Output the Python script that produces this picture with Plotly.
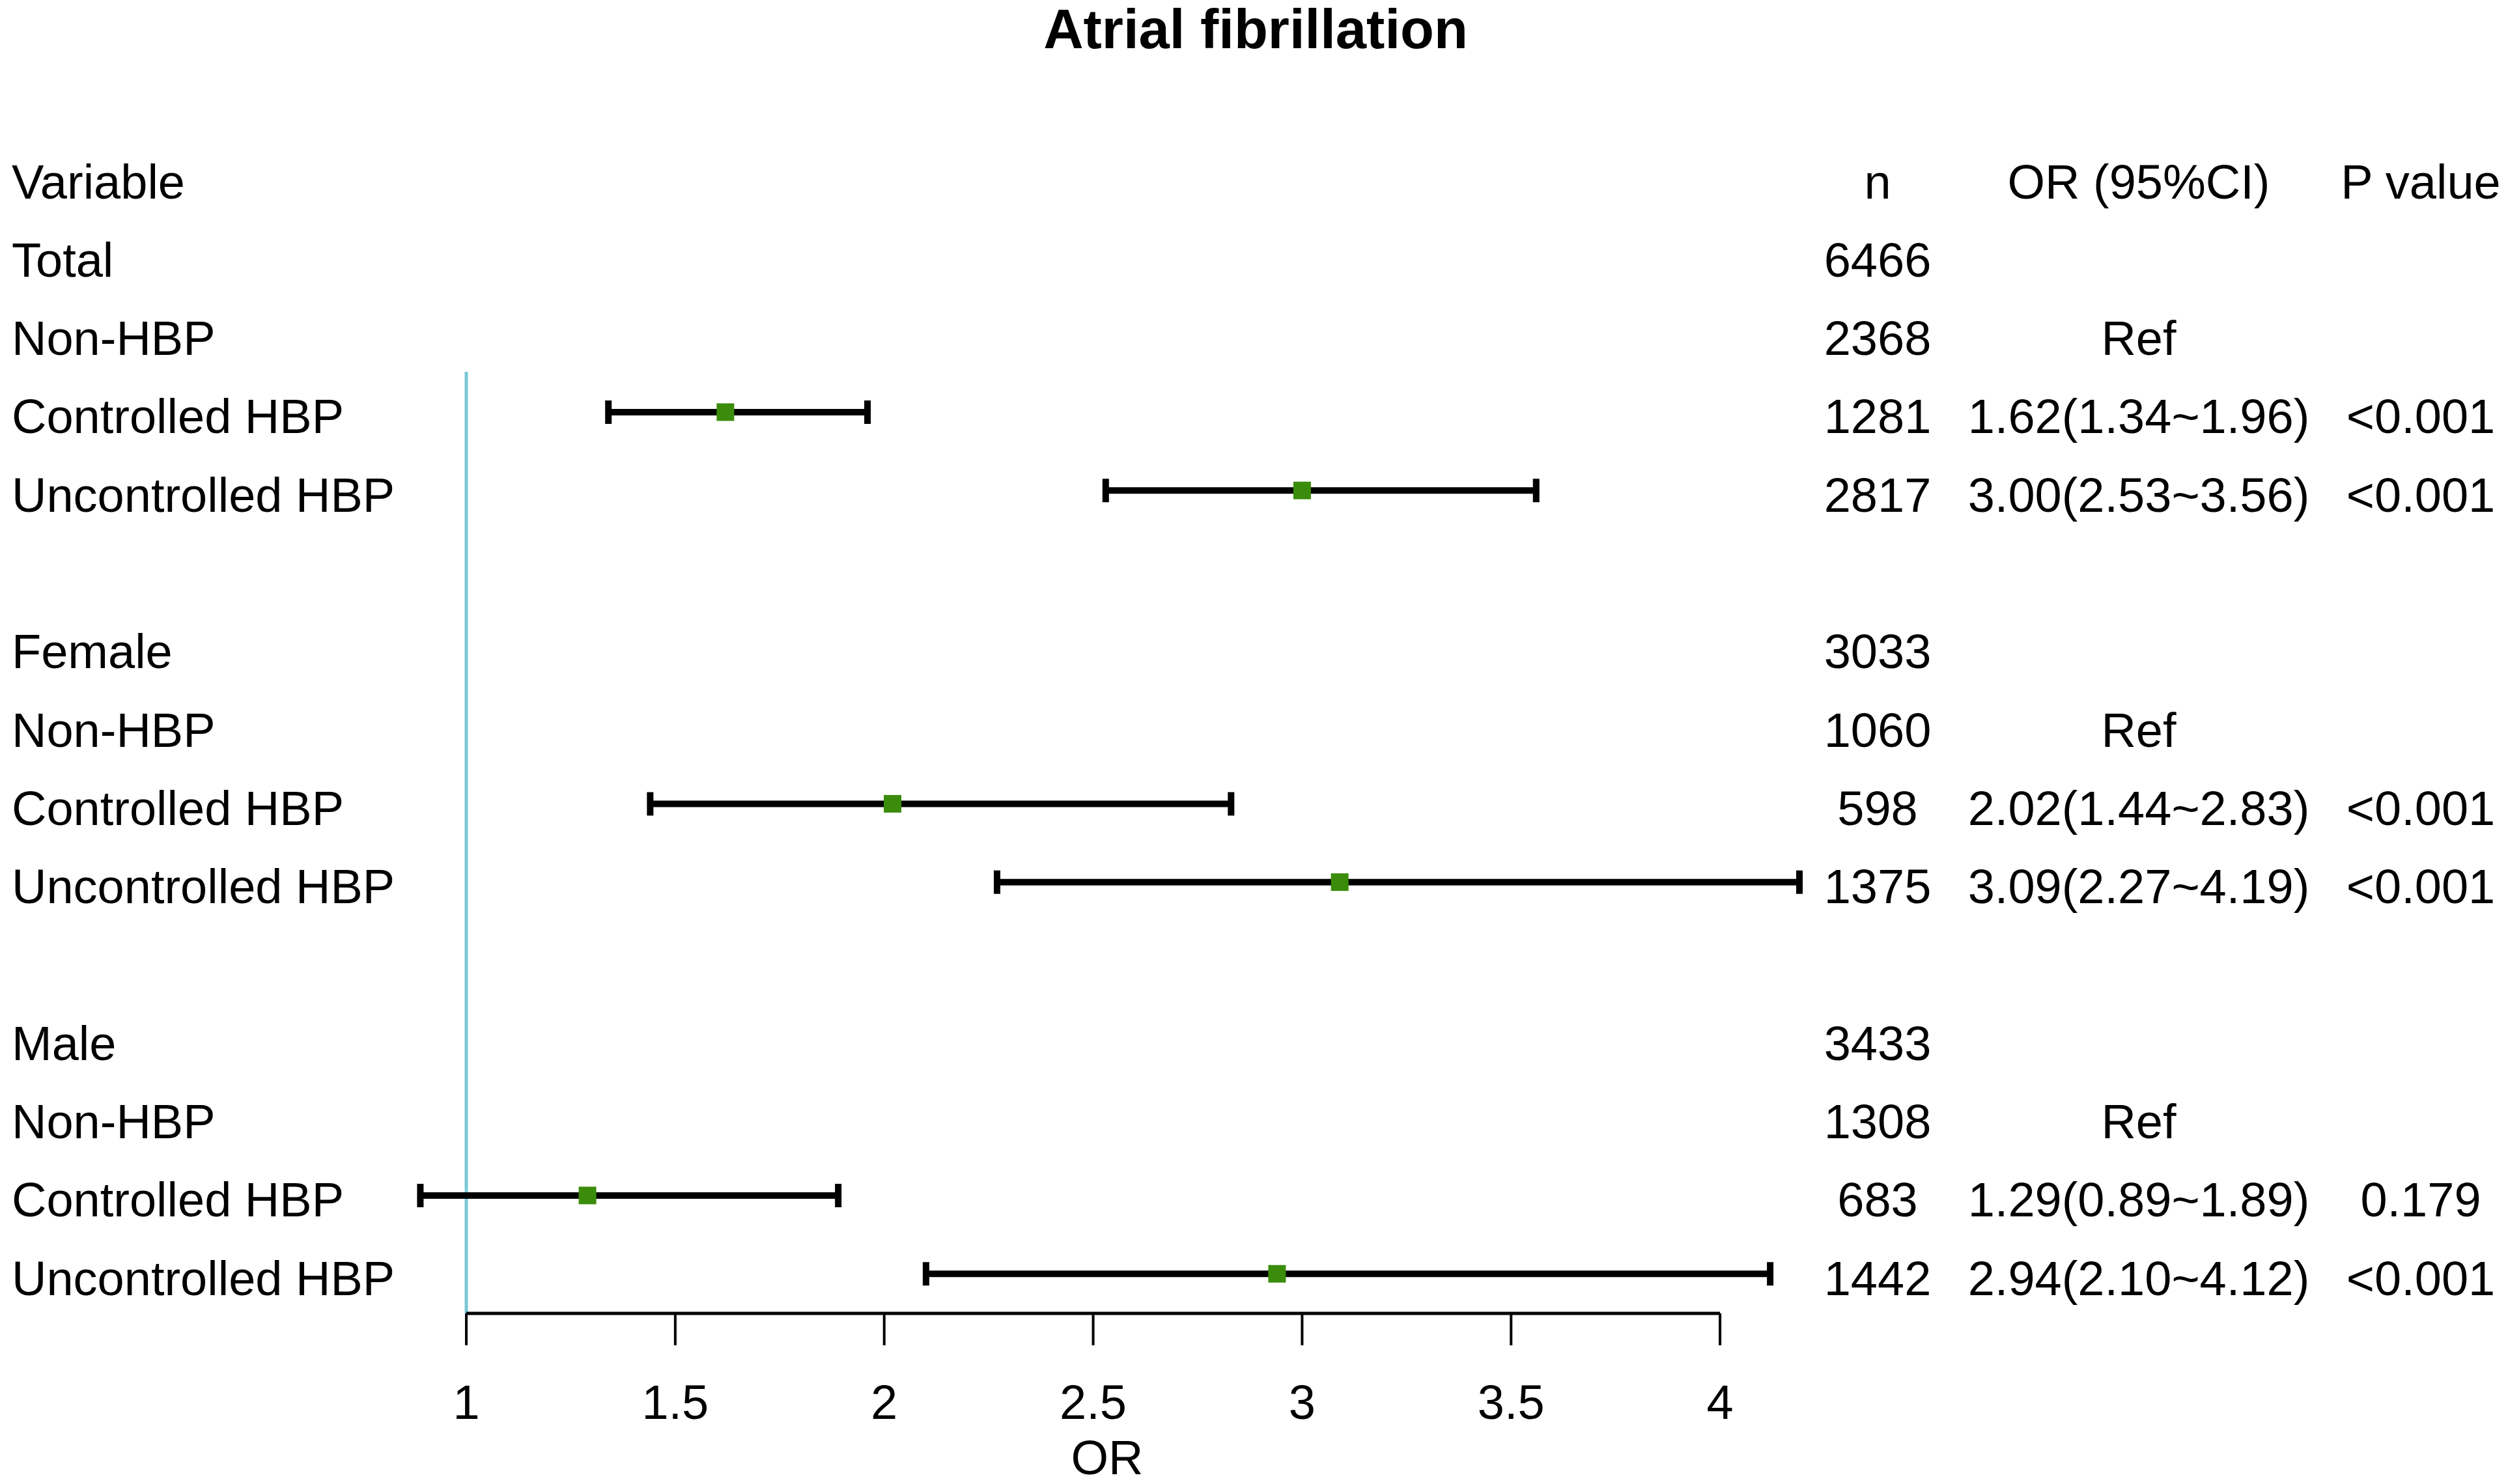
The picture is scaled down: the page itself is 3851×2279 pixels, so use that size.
import plotly.graph_objects as go

# ---- data ----
title_text = "Atrial fibrillation"
headers = ["Variable", "n", "OR (95%CI)", "P value"]

variables = ["Total", "Non-HBP", "Controlled HBP", "Uncontrolled HBP", "",
             "Female", "Non-HBP", "Controlled HBP", "Uncontrolled HBP", "",
             "Male", "Non-HBP", "Controlled HBP", "Uncontrolled HBP"]
n_values = ["6466", "2368", "1281", "2817", "",
            "3033", "1060", "598", "1375", "",
            "3433", "1308", "683", "1442"]
or_text = ["", "Ref", "1.62(1.34~1.96)", "3.00(2.53~3.56)", "",
           "", "Ref", "2.02(1.44~2.83)", "3.09(2.27~4.19)", "",
           "", "Ref", "1.29(0.89~1.89)", "2.94(2.10~4.12)"]
p_text = ["", "", "<0.001", "<0.001", "",
          "", "", "<0.001", "<0.001", "",
          "", "", "0.179", "<0.001"]
or_est = [None, None, 1.62, 3.00, None,
          None, None, 2.02, 3.09, None,
          None, None, 1.29, 2.94]
ci_low = [None, None, 1.34, 2.53, None,
          None, None, 1.44, 2.27, None,
          None, None, 0.89, 2.10]
ci_high = [None, None, 1.96, 3.56, None,
           None, None, 2.83, 4.19, None,
           None, None, 1.89, 4.12]

tick_values = [1, 1.5, 2, 2.5, 3, 3.5, 4]
tick_labels = ["1", "1.5", "2", "2.5", "3", "3.5", "4"]
axis_title = "OR"
ref_value = 1

# ---- geometry, in pixels of the 3851x2279 page ----
W, H = 3851, 2279
OFF = 8                              # default body margin of the html page
row0_px, row_step = 286, 120.3       # header row, row pitch
x1_px, px_per_unit = 716, 641.7      # where OR = 1 sits, scale


def row_of(px):
    return (px - row0_px) / row_step


y_top = row_of(OFF)
y_bot = row_of(H - OFF)
x_lo = ref_value - (x1_px - OFF) / px_per_unit
x_hi = ref_value + (W - OFF - x1_px) / px_per_unit

rows = list(range(1, len(variables) + 1))
line_shift = -14 / row_step          # CI lines sit a touch above the text middle
axis_row = row_of(2017)
tick_end = row_of(2066)
tick_lab_row = row_of(2160)
axis_title_row = row_of(2245)
ref_top = row_of(571)

FONT = "Liberation Sans, Arial, sans-serif"
FS = 74

fig = go.Figure()

# reference line at OR = 1
fig.add_trace(go.Scatter(
    x=[ref_value, ref_value], y=[ref_top, axis_row],
    mode="lines", line=dict(color="#78c8d8", width=5),
    hoverinfo="skip"))

# confidence intervals + point estimates
est_rows = [r + line_shift for r, e in zip(rows, or_est) if e is not None]
est_x = [e for e in or_est if e is not None]
plus = [h - e for e, h in zip(or_est, ci_high) if e is not None]
minus = [e - l for e, l in zip(or_est, ci_low) if e is not None]
fig.add_trace(go.Scatter(
    x=est_x, y=est_rows, mode="markers",
    marker=dict(symbol="square", size=27, color="#3b8c0b", line=dict(width=0)),
    error_x=dict(type="data", symmetric=False, array=plus, arrayminus=minus,
                 color="black", thickness=10, width=18)))

# x axis drawn by hand so that it only spans 1..4
fig.add_trace(go.Scatter(
    x=[tick_values[0], tick_values[-1]], y=[axis_row, axis_row],
    mode="lines", line=dict(color="black", width=5), hoverinfo="skip"))
tx, ty = [], []
for t in tick_values:
    tx += [t, t, None]
    ty += [axis_row, tick_end, None]
fig.add_trace(go.Scatter(x=tx, y=ty, mode="lines",
                         line=dict(color="black", width=4), hoverinfo="skip"))
fig.add_trace(go.Scatter(
    x=tick_values, y=[tick_lab_row] * len(tick_values), mode="text",
    text=tick_labels, textposition="middle center",
    textfont=dict(family=FONT, size=FS, color="black")))

# text columns (second x axis in page pixels)
col_x = {"var": 18, "n": 2883, "or": 3284, "p": 3717}
all_rows = [0] + rows
fig.add_trace(go.Scatter(
    x=[col_x["var"]] * len(all_rows), y=all_rows, xaxis="x2", mode="text",
    text=[headers[0]] + variables, textposition="middle right",
    textfont=dict(family=FONT, size=FS, color="black")))
for key, head, vals in [("n", headers[1], n_values),
                        ("or", headers[2], or_text),
                        ("p", headers[3], p_text)]:
    fig.add_trace(go.Scatter(
        x=[col_x[key]] * len(all_rows), y=all_rows, xaxis="x2", mode="text",
        text=[head] + vals, textposition="middle center",
        textfont=dict(family=FONT, size=FS, color="black")))

fig.add_trace(go.Scatter(
    x=[1700], y=[axis_title_row], xaxis="x2", mode="text",
    text=[axis_title], textposition="middle center",
    textfont=dict(family=FONT, size=FS, color="black")))

fig.update_layout(
    width=W - 2 * OFF, height=H - 2 * OFF,
    margin=dict(l=0, r=0, t=0, b=0),
    paper_bgcolor="white", plot_bgcolor="white",
    showlegend=False,
    title=dict(text="<b>" + title_text + "</b>",
               x=(1928 - OFF) / (W - 2 * OFF), xanchor="center",
               y=1 - 36 / (H - 2 * OFF), yanchor="middle", yref="container",
               font=dict(family=FONT, size=85, color="black")),
    xaxis=dict(range=[x_lo, x_hi], visible=False, domain=[0, 1]),
    xaxis2=dict(range=[OFF, W - OFF], visible=False, overlaying="x"),
    yaxis=dict(range=[y_bot, y_top], visible=False, domain=[0, 1]),
)

fig.write_html("out.html")
